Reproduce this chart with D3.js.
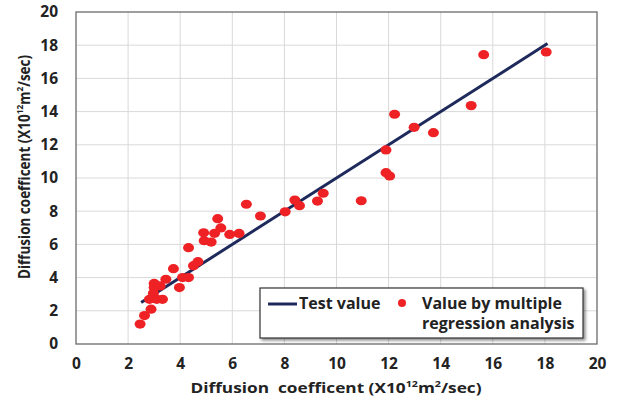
<!DOCTYPE html>
<html>
<head>
<meta charset="utf-8">
<script src="https://cdn.jsdelivr.net/npm/d3@7"></script>
<style>
  body { margin: 0; background: #fff; }
  text { font-family: "Open Sans", "DejaVu Sans", sans-serif; font-weight: bold; fill: #222; }
</style>
</head>
<body>
<div id="chart"></div>
<script>
// measured values (x = test, y = predicted by regression)
const measuredX = [2.46, 2.63, 2.88, 2.82, 3.1, 3.32, 2.97, 3.0, 3.0, 3.23, 3.45, 3.97, 3.74, 4.09,
                   4.32, 4.51, 4.68, 4.32, 4.9, 4.92, 5.19, 5.32, 5.44, 5.56, 5.9, 6.26, 6.54, 7.08,
                   8.03, 8.4, 8.58, 9.27, 9.49, 10.95, 11.9, 11.9, 12.04, 12.23, 12.98, 13.72, 15.17,
                   15.65, 18.05];
const predictedY = [1.2, 1.71, 2.1, 2.69, 2.69, 2.69, 3.05, 3.4, 3.65, 3.5, 3.9, 3.4, 4.54, 4.0,
                    4.0, 4.72, 4.96, 5.8, 6.7, 6.22, 6.14, 6.67, 7.55, 6.99, 6.6, 6.66, 8.42, 7.71,
                    7.96, 8.67, 8.33, 8.61, 9.08, 8.63, 11.69, 10.32, 10.12, 13.84, 13.05, 12.73, 14.36,
                    17.43, 17.59];
// test value line
const lineX = [2.5, 18.1];
const lineY = [2.5, 18.1];
const xTicks = [0, 2, 4, 6, 8, 10, 12, 14, 16, 18, 20];
const yTicks = [0, 2, 4, 6, 8, 10, 12, 14, 16, 18, 20];

const points = measuredX.map((x, i) => ({x: x, y: predictedY[i]}));
const linePts = lineX.map((x, i) => ({x: x, y: lineY[i]}));

var margin = {top: 12, right: 22, bottom: 61, left: 76},
    width = 619 - margin.left - margin.right,
    height = 405 - margin.top - margin.bottom;

const root = d3.select("#chart").append("svg")
    .attr("width", 619)
    .attr("height", 405);

const defs = root.append("defs");
const shadow = defs.append("filter").attr("id", "shadow")
    .attr("x", "-10%").attr("y", "-20%").attr("width", "130%").attr("height", "160%");
shadow.append("feDropShadow").attr("dx", 2).attr("dy", 2).attr("stdDeviation", 1.5)
    .attr("flood-color", "#000").attr("flood-opacity", 0.45);

const svg = root.append("g")
    .attr("transform", "translate(" + margin.left + "," + margin.top + ")");

const x = d3.scaleLinear().domain([0, 20]).range([0, width]);
const y = d3.scaleLinear().domain([0, 20]).range([height, 0]);

// gridlines
svg.append("g").selectAll("line.vx")
    .data(xTicks.slice(1, -1)).enter().append("line")
    .attr("x1", d => x(d)).attr("x2", d => x(d))
    .attr("y1", 0).attr("y2", height)
    .attr("stroke", "#d9d9d9").attr("stroke-width", 1);
svg.append("g").selectAll("line.hy")
    .data(yTicks.slice(1, -1)).enter().append("line")
    .attr("y1", d => y(d)).attr("y2", d => y(d))
    .attr("x1", 0).attr("x2", width)
    .attr("stroke", "#d9d9d9").attr("stroke-width", 1);

// frame
svg.append("rect")
    .attr("x", 0).attr("y", 0).attr("width", width).attr("height", height)
    .attr("fill", "none").attr("stroke", "#6b6b6b").attr("stroke-width", 1.3);

// axes (labels only)
const xAxis = svg.append("g")
    .attr("transform", "translate(0," + height + ")")
    .call(d3.axisBottom(x).tickValues(xTicks).tickSize(0).tickPadding(14));
const yAxis = svg.append("g")
    .call(d3.axisLeft(y).tickValues(yTicks).tickSize(0).tickPadding(18));
[xAxis, yAxis].forEach(a => {
    a.select(".domain").remove();
    a.selectAll("text").attr("font-size", 15.5).attr("font-family", "\"Open Sans\", sans-serif")
        .attr("font-weight", "bold").attr("fill", "#222");
});

// test value line
svg.append("path")
    .datum(linePts)
    .attr("d", d3.line().x(d => x(d.x)).y(d => y(d.y)))
    .attr("stroke", "#1f2a5c").attr("stroke-width", 3).attr("fill", "none");

// points
svg.selectAll("ellipse.pt")
    .data(points).enter().append("ellipse")
    .attr("cx", d => x(d.x)).attr("cy", d => y(d.y))
    .attr("rx", 5.5).attr("ry", 4.6)
    .attr("fill", "#ee2225");

// axis titles
function titleText(sel, gap) {
    sel.append("tspan").text("Diffusion" + gap + "coefficent (X10");
    sel.append("tspan").attr("font-size", "0.62em").attr("dy", -6).text("12");
    sel.append("tspan").attr("dy", 6).text("m");
    sel.append("tspan").attr("font-size", "0.62em").attr("dy", -6).text("2");
    sel.append("tspan").attr("dy", 6).text("/sec)");
}
// the titles are a little stretched sideways, as in the source
root.append("text")
    .attr("transform", "translate(336,393) scale(1.19,1)")
    .attr("text-anchor", "middle").attr("font-size", 14.5)
    .attr("xml:space", "preserve")
    .call(titleText, "  ");
root.append("text")
    .attr("transform", "translate(30,167) scale(1.15,1) rotate(-90)")
    .attr("text-anchor", "middle").attr("font-size", 13.5)
    .call(titleText, " ");

// legend
const lg = root.append("g").attr("transform", "translate(260,288)");
lg.append("rect")
    .attr("width", 323).attr("height", 50)
    .attr("fill", "#fff").attr("stroke", "#333").attr("stroke-width", 1.2)
    .attr("filter", "url(#shadow)");
lg.append("line")
    .attr("x1", 8).attr("x2", 37).attr("y1", 16).attr("y2", 16)
    .attr("stroke", "#1f2a5c").attr("stroke-width", 3);
lg.append("text").attr("x", 39).attr("y", 21).attr("font-size", 16).text("Test value");
lg.append("circle").attr("cx", 142).attr("cy", 15).attr("r", 4).attr("fill", "#ee2225");
lg.append("text").attr("x", 162).attr("y", 21).attr("font-size", 16).text("Value by multiple");
lg.append("text").attr("x", 162).attr("y", 41).attr("font-size", 16).text("regression analysis");
</script>
</body>
</html>
